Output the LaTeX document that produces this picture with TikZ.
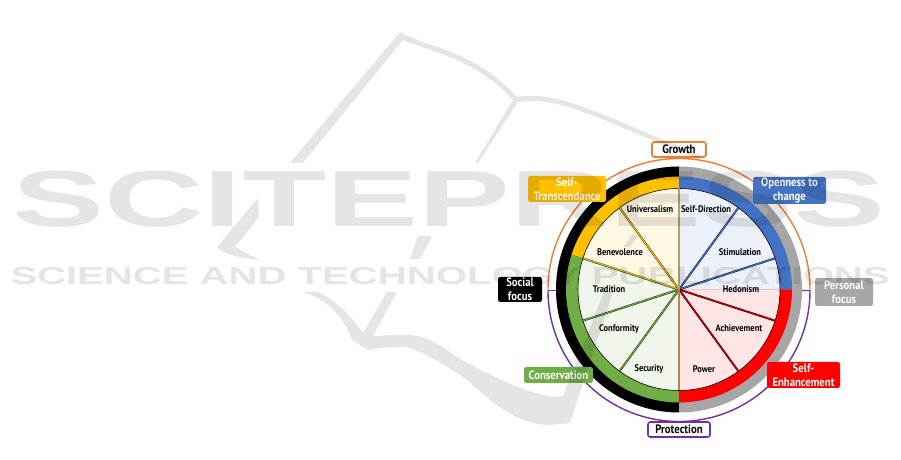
\documentclass[tikz,border=0pt]{standalone}
\usepackage{fontspec}
\setmainfont{PT Sans}[FakeStretch=0.88]
\newfontfamily\markfont{Liberation Sans}
\definecolor{growthc}{HTML}{ED7D31}
\definecolor{protectc}{HTML}{7030A0}
\definecolor{greyc}{HTML}{A6A6A6}
\definecolor{bluec}{HTML}{4472C4}
\definecolor{redc}{HTML}{FF0000}
\definecolor{greenc}{HTML}{70AD47}
\definecolor{yellowc}{HTML}{FFC000}
\definecolor{bluet}{HTML}{ECF0F9}
\definecolor{redt}{HTML}{FFE5E5}
\definecolor{greent}{HTML}{F0F6EC}
\definecolor{yellowt}{HTML}{FFF8E5}
\tikzset{
  value/.style={font=\bfseries\fontsize{8.2}{9}\selectfont,inner sep=0pt},
  tag/.style={rounded corners=2pt,font=\bfseries\fontsize{10.4}{12}\selectfont,text=white,align=center,inner sep=0pt},
  dim/.style={font=\bfseries\fontsize{10.4}{12}\selectfont,fill=white,rounded corners=2pt,line width=1.4pt,inner sep=0pt},
  spoke/.style={line width=.3pt,draw=black,double distance=1pt},
  halo/.style={line width=1.2pt}
}
\begin{document}
\begin{tikzpicture}[x=0.03cm,y=0.03cm]
  \useasboundingbox (0,0) rectangle (901,460);
  \begin{scope}[shift={(679,170.5)}]
    \coordinate (c) at (0,0);
    \draw [halo,growthc](-131,0) arc (180:0:131);
    \draw [halo,protectc](-131,-1) arc (180:360:131) --(120,-1);
    \draw [halo,protectc](-131,-1)--(-120,-1);
    \fill (c)--(90:123) arc (90:270:123)--cycle;
    \fill [greyc](c)--(90:123) arc (90:-90:123)--cycle;
    \fill [yellowc](c)--(90:113) arc (90:162:113)--cycle;
    \fill [greenc](c)--(162:113) arc (162:270:113)--cycle;
    \fill [redc](c)--(270:113) arc (270:360:113)--cycle;
    \fill [bluec](c)--(0:113) arc (0:90:113)--cycle;
    \fill [yellowt](c)--(90:101) arc (90:162:101)--cycle;
    \fill [greent](c)--(162:101) arc (162:270:101)--cycle;
    \fill [redt](c)--(270:101) arc (270:360:101)--cycle;
    \fill [bluet](c)--(0:101) arc (0:90:101)--cycle;
    \draw [line width=.5pt](c) circle (101);
    \draw [spoke,double=bluec](c)--(54:101);
    \draw [spoke,double=bluec](c)--(18:101);
    \draw [spoke,double=redc!80!black](c)--(-18:101);
    \draw [spoke,double=redc!80!black](c)--(-54:101);
    \draw [spoke,double=greenc](c)--(-126:101);
    \draw [spoke,double=greenc](c)--(-162:101);
    \draw [spoke,double=yellowc](c)--(126:101);
    \draw [spoke,double=greenc](c)--(162:101);
    \draw [line width=.7pt,yellowc]([yshift=.25pt]c)--([yshift=.25pt]162:100);
    \draw [line width=1.1pt,black!50!yellowc!60!white](c)--(90:101);
    \draw [line width=1.1pt,brown!80!greenc](c)--(-90:101);
  \end{scope}
  \node [value] (universalism) at (650,251) {Universalism};
  \node [value] (selfdirection) at (706,251) {Self-Direction};
  \node [value] (benevolence) at (620,208) {Benevolence};
  \node [value] (stimulation) at (740,208) {Stimulation};
  \node [value] (tradition) at (609,171) {Tradition};
  \node [value] (hedonism) at (741,171) {Hedonism};
  \node [value] (conformity) at (619,131) {Conformity};
  \node [value] (achievement) at (739,132) {Achievement};
  \node [value] (security) at (649,91) {Security};
  \node [value] (power) at (704,91) {Power};
  \node [dim,draw=growthc,minimum width=1.62cm,minimum height=.45cm] (growth) at (679,310.5) {Growth};
  \node [dim,draw=protectc,minimum width=1.86cm,minimum height=.45cm] (protection) at (679,30.5) {Protection};
  \node [tag,fill=yellowc,minimum width=2.34cm,minimum height=.78cm] (transcend) at (567,271) {Self-\\Transcendance};
  \node [tag,fill=bluec,minimum width=2.19cm,minimum height=.81cm] (openness) at (789.5,269.5) {Openness to\\change};
  \node [tag,fill=greyc,minimum width=1.74cm,minimum height=.84cm] (personal) at (844,168) {Personal\\focus};
  \node [tag,fill=redc,minimum width=2.19cm,minimum height=.78cm] (enhance) at (803.5,85) {Self-\\Enhancement};
  \node [tag,fill=greenc,minimum width=2.07cm,minimum height=.48cm] (conservation) at (558.5,85) {Conservation};
  \node [tag,fill=black,minimum width=1.32cm,minimum height=.75cm] (social) at (520,170.5) {Social\\focus};
  \begin{scope}[transparency group,opacity=.1]
    \node [transform shape,xscale=1.73,inner sep=0pt,font=\markfont\bfseries\fontsize{68}{70}\selectfont] (press) at (449,261) {SCITEPRESS};
    \node [transform shape,xscale=1.63,inner sep=0pt,font=\markfont\bfseries\fontsize{21}{22}\selectfont] (publish) at (450,184) {SCIENCE AND TECHNOLOGY PUBLICATIONS};
    \fill (290,297)--(400,428) .. controls (425,413) and (475,410) .. (517,363) .. controls (560,370) and (600,345) .. (700,305)--(700,300) .. controls (600,340) and (560,365) .. (518,358)--(478,297)--(475,297)--(513,360) .. controls (475,402) and (428,409) .. (403,420)--(303,297)--cycle;
    \fill (258,262)--(217,213) .. controls (222,207) and (232,203) .. (260,200)--(235,213)--(259,243)--cycle;
    \fill (438,245)--(446,245)--(438,235)--cycle;
    \fill (418,224)--(432,224)--(420,201)--(410,201)--cycle;
    \fill (303,168) .. controls (330,160) and (345,140) .. (352,120)--(368,110) .. controls (385,113) and (395,113) .. (407,113) .. controls (430,105) and (450,92) .. (467,80) .. controls (490,60) and (515,35) .. (550,35)--(570,37)--(613,168)--(604,168)--(563,64)--(555,63) .. controls (530,65) and (490,85) .. (467,97) .. controls (445,110) and (430,125) .. (407,125) .. controls (395,126) and (385,124) .. (373,124)--(397,168)--(387,168)--(363,127) .. controls (350,145) and (335,160) .. (318,168)--cycle;
    \fill (623,213)--(632,225)--(638,225)--(630,213)--cycle;
  \end{scope}
\end{tikzpicture}
\end{document}
